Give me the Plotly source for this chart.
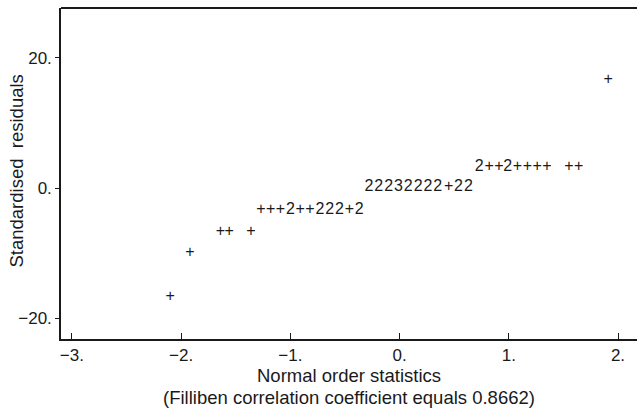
import plotly.graph_objects as go

# Normal order statistics (x), standardised residuals (y), and printer-plot symbol
normal_scores = [-2.10, -1.92, -1.64, -1.56, -1.36,
                 -1.27, -1.18, -1.09, -1.00, -0.91, -0.82, -0.73, -0.64, -0.55, -0.46, -0.37,
                 -0.28, -0.19, -0.10, -0.01, 0.08, 0.17, 0.26, 0.35, 0.45, 0.54, 0.63,
                 0.73, 0.82, 0.91, 0.99, 1.08, 1.17, 1.26, 1.35, 1.55, 1.64,
                 1.91]
residuals = [-16.8, -10.0, -6.8, -6.8, -6.8,
             -3.4, -3.4, -3.4, -3.4, -3.4, -3.4, -3.4, -3.4, -3.4, -3.4, -3.4,
             0.2, 0.2, 0.2, 0.2, 0.2, 0.2, 0.2, 0.2, 0.2, 0.2, 0.2,
             3.2, 3.2, 3.2, 3.2, 3.2, 3.2, 3.2, 3.2, 3.2, 3.2,
             16.6]
symbols = list("+" "+" "++" "+"
               "+++2++222+2"
               "22232222+22"
               "2++2++++" "++"
               "+")

x_tickvals = [-3, -2, -1, 0, 1, 2]
x_ticktext = ["\u22123.", "\u22122.", "\u22121.", "0.", "1.", "2."]
y_tickvals = [-20, 0, 20]
y_ticktext = ["\u221220.", "0.", "20."]

x_title = "Normal order statistics"
x_subtitle = "(Filliben correlation coefficient equals 0.8662)"
y_title = "Standardised  residuals"

FONT = "Liberation Sans, Arial, Helvetica, sans-serif"
INK = "#1a1a1a"

fig = go.Figure()
fig.add_trace(go.Scatter(
    x=normal_scores, y=residuals, mode="text", text=symbols,
    textposition="middle center",
    textfont=dict(family=FONT, size=16, color=INK),
    showlegend=False, hoverinfo="skip",
))

fig.update_layout(
    width=637, height=410,
    margin=dict(l=61, r=0, t=8, b=71),
    paper_bgcolor="white", plot_bgcolor="white",
    font=dict(family=FONT, color=INK, size=17),
    hovermode=False,
    xaxis=dict(
        range=[-3.10, 2.174], tickvals=x_tickvals, ticktext=x_ticktext,
        showgrid=False, zeroline=False, showline=True, linecolor=INK, linewidth=1.5,
        mirror=False, ticks="inside", ticklen=6, tickwidth=1, tickcolor=INK,
        tickfont=dict(family=FONT, size=17, color=INK),
    ),
    yaxis=dict(
        range=[-23.23, 27.69], tickvals=y_tickvals, ticktext=y_ticktext,
        showgrid=False, zeroline=False, showline=True, linecolor=INK, linewidth=1.5,
        ticks="outside", ticklen=4, tickwidth=1, tickcolor=INK,
        tickfont=dict(family=FONT, size=17, color=INK),
    ),
    shapes=[dict(type="line", xref="paper", yref="paper", x0=0, x1=1, y0=1, y1=1,
                 line=dict(color=INK, width=2))],
    annotations=[
        dict(text=x_title, xref="paper", yref="paper", x=0.5, y=-0.109,
             xanchor="center", yanchor="middle", showarrow=False,
             font=dict(family=FONT, size=18.5, color=INK)),
        dict(text=x_subtitle, xref="paper", yref="paper", x=0.5, y=-0.178,
             xanchor="center", yanchor="middle", showarrow=False,
             font=dict(family=FONT, size=18.5, color=INK)),
        dict(text=y_title, xref="paper", yref="paper", x=-0.0764, y=0.509,
             xanchor="center", yanchor="middle", showarrow=False, textangle=-90,
             font=dict(family=FONT, size=18.5, color=INK)),
    ],
)

fig.write_html("out.html", config={"displayModeBar": False},
               post_script="document.body.style.margin='0';")
